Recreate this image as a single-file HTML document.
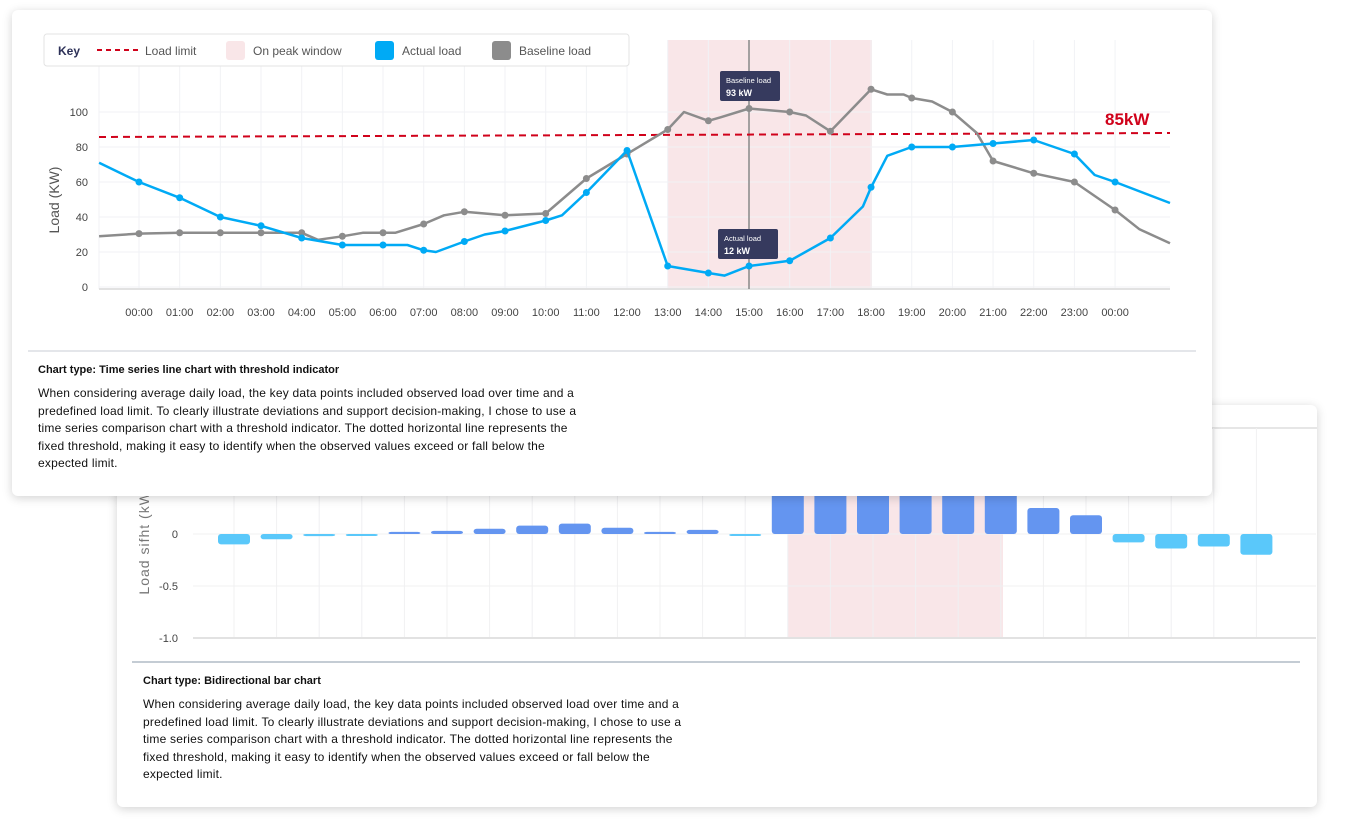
<!DOCTYPE html>
<html><head><meta charset="utf-8"><style>
body{margin:0;width:1345px;height:823px;background:#fff;font-family:"Liberation Sans",sans-serif;position:relative;overflow:hidden}
.card{position:absolute;background:#fff;border-radius:6px;box-shadow:0 2px 10px rgba(0,0,0,.18)}
#c1{left:12px;top:10px;width:1200px;height:486px;z-index:2}
#c2{left:117px;top:405px;width:1200px;height:402px;z-index:1}
svg{position:absolute;left:0;top:0}
.ttl{position:absolute;font-size:11px;font-weight:bold;color:#111}
.para{position:absolute;font-size:12px;letter-spacing:0.2px;line-height:17.5px;color:#111;white-space:nowrap}
</style></head><body>
<div class="card" id="c1"></div>
<div class="card" id="c2"></div>
<svg id="s2" width="1345" height="823" style="z-index:1"></svg>
<svg id="s1" width="1345" height="823" style="z-index:3;pointer-events:none"></svg>
<div class="ttl" style="left:38px;top:364px;z-index:4">Chart type: Time series line chart with threshold indicator</div>
<div class="para" style="left:38px;top:385px;z-index:4">When considering average daily load, the key data points included observed load over time and a<br>predefined load limit. To clearly illustrate deviations and support decision-making, I chose to use a<br>time series comparison chart with a threshold indicator. The dotted horizontal line represents the<br>fixed threshold, making it easy to identify when the observed values exceed or fall below the<br>expected limit.</div>
<div class="ttl" style="left:143px;top:675px;z-index:2">Chart type: Bidirectional bar chart</div>
<div class="para" style="left:143px;top:696px;z-index:2">When considering average daily load, the key data points included observed load over time and a<br>predefined load limit. To clearly illustrate deviations and support decision-making, I chose to use a<br>time series comparison chart with a threshold indicator. The dotted horizontal line represents the<br>fixed threshold, making it easy to identify when the observed values exceed or fall below the<br>expected limit.</div>
<script>
var s1=document.getElementById('s1'),s2=document.getElementById('s2');
function X(h){return 139+40.67*h}function Y(v){return 287-1.75*v}
var o='';
o+='<rect x="668" y="40" width="204" height="249" fill="#f9e6e8"/>';
for(var h=0;h<=24;h++)o+='<line x1="'+X(h)+'" y1="40" x2="'+X(h)+'" y2="289" stroke="#f1f2f5"/>';
o+='<line x1="99" y1="40" x2="99" y2="289" stroke="#f1f2f5"/>';
for(var v=0;v<=100;v+=20){o+='<line x1="99" y1="'+Y(v)+'" x2="1170" y2="'+Y(v)+'" stroke="#f1f2f5"/><text x="88" y="'+(Y(v)+4)+'" font-size="11" fill="#444" text-anchor="end">'+v+'</text>';}
o+='<line x1="99" y1="289" x2="1170" y2="289" stroke="#e2e2e2" stroke-width="2"/>';
for(h=0;h<=24;h++){o+='<text x="'+X(h)+'" y="316" font-size="11" fill="#444" text-anchor="middle">'+(h==24?'00':(h<10?'0'+h:h))+':00</text>';}
o+='<text transform="translate(59,200) rotate(-90)" font-size="14" fill="#555" text-anchor="middle">Load (KW)</text>';
o+='<line x1="749" y1="40" x2="749" y2="289" stroke="#888" stroke-width="1.5"/>';
o+='<line x1="99" y1="137" x2="1170" y2="133" stroke="#d0021b" stroke-width="2" stroke-dasharray="7,5"/>';
o+='<text x="1105" y="125" font-size="17" font-weight="bold" fill="#d0021b">85kW</text>';
var E=25.35;
var A=[[-0.98,71],[0,60,1],[1,51,1],[2,40,1],[3,35,1],[4,28,1],[5,24,1],[6,24,1],[6.6,24],[7,21,1],[7.3,20],[8,26,1],[8.5,30],[9,32,1],[10,38,1],[10.4,41],[11,54,1],[12,78,1],[13,12,1],[14,8,1],[14.4,6.5],[15,12,1],[16,15,1],[17,28,1],[17.8,46],[18,57,1],[18.4,75],[19,80,1],[20,80,1],[21,82,1],[22,84,1],[23,76,1],[23.5,64],[24,60,1],[E,48]];
var B=[[-0.98,29],[0,30.5,1],[1,31,1],[2,31,1],[3,31,1],[4,31,1],[4.4,27],[5,29,1],[5.5,31],[6,31,1],[6.3,31],[7,36,1],[7.5,41],[8,43,1],[9,41,1],[10,42,1],[11,62,1],[12,76,1],[13,90,1],[13.4,100],[14,95,1],[14.3,97],[15,102,1],[16,100,1],[16.4,98],[17,89,1],[18,113,1],[18.4,110],[18.8,110],[19,108,1],[19.5,106],[20,100,1],[20.6,88],[21,72,1],[22,65,1],[23,60,1],[24,44,1],[24.6,33],[E,25]];
function line(d,c){var p=d.map(function(a){return X(a[0]).toFixed(1)+','+Y(a[1]).toFixed(1)}).join(' ');var r='<polyline points="'+p+'" fill="none" stroke="'+c+'" stroke-width="2.5" stroke-linejoin="round"/>';d.forEach(function(a){if(a[2])r+='<circle cx="'+X(a[0])+'" cy="'+Y(a[1])+'" r="3.5" fill="'+c+'"/>'});return r}
o+=line(B,'#8c8c8c')+line(A,'#00aaf5');
o+='<rect x="720" y="71" width="60" height="30" rx="2" fill="#363a5e"/><text x="726" y="83" font-size="7.5" fill="#fff">Baseline load</text><text x="726" y="96" font-size="9" font-weight="bold" fill="#fff">93 kW</text>';
o+='<rect x="718" y="229" width="60" height="30" rx="2" fill="#363a5e"/><text x="724" y="241" font-size="7.5" fill="#fff">Actual load</text><text x="724" y="254" font-size="9" font-weight="bold" fill="#fff">12 kW</text>';
o+='<rect x="44" y="34" width="585" height="32" rx="3" fill="#fff" stroke="#e3e3e3"/>';
o+='<text x="58" y="55" font-size="12" font-weight="bold" fill="#2d3158">Key</text>';
o+='<line x1="97" y1="50" x2="138" y2="50" stroke="#d0021b" stroke-width="2" stroke-dasharray="5,4"/><text x="145" y="55" font-size="12" fill="#555">Load limit</text>';
o+='<rect x="226" y="41" width="19" height="19" rx="3" fill="#f9e6e8"/><text x="253" y="55" font-size="12" fill="#555">On peak window</text>';
o+='<rect x="375" y="41" width="19" height="19" rx="3" fill="#00aaf5"/><text x="402" y="55" font-size="12" fill="#555">Actual load</text>';
o+='<rect x="492" y="41" width="19" height="19" rx="3" fill="#8c8c8c"/><text x="519" y="55" font-size="12" fill="#555">Baseline load</text>';
o+='<line x1="28" y1="351" x2="1196" y2="351" stroke="#c8ccd4"/>';
s1.innerHTML=o;
var p='';
p+='<line x1="117" y1="428" x2="1317" y2="428" stroke="#e6e6e6" stroke-width="2"/>';
p+='<rect x="788" y="428" width="215" height="210" fill="#f9e6e8"/>';
var vals=[-0.1,-0.05,-0.02,-0.01,0.02,0.03,0.05,0.08,0.1,0.06,0.02,0.04,-0.01,1,1,1,1,1,1,0.25,0.18,-0.08,-0.14,-0.12,-0.2];
for(var i=0;i<25;i++){var cx=234+42.6*i;p+='<line x1="'+cx+'" y1="428" x2="'+cx+'" y2="638" stroke="#f0f0f2"/>';}
[[534,'0'],[586,'-0.5'],[638,'-1.0']].forEach(function(t){p+='<line x1="193" y1="'+t[0]+'" x2="1316" y2="'+t[0]+'" stroke="#f0f0f2"/><text x="178" y="'+(t[0]+4)+'" font-size="11" fill="#444" text-anchor="end">'+t[1]+'</text>'});
p+='<line x1="193" y1="638" x2="1316" y2="638" stroke="#e2e2e2" stroke-width="2"/>';
for(i=0;i<25;i++){var cx=234+42.6*i,v=vals[i],h=Math.max(Math.abs(v)*104,2),y=v>0?534-h:534;if(v>=1){h=100;y=434}
p+='<rect x="'+(cx-16)+'" y="'+y+'" width="32" height="'+h+'" rx="3" fill="'+(v>0?'#6495f0':'#5ac8fa')+'"/>';}
p+='<text transform="translate(149,540) rotate(-90)" font-size="14" fill="#777" text-anchor="middle" letter-spacing="1">Load sifht (kW)</text>';
p+='<line x1="132" y1="662" x2="1300" y2="662" stroke="#8a9aaa"/>';
s2.innerHTML=p;
</script>
</body></html>
